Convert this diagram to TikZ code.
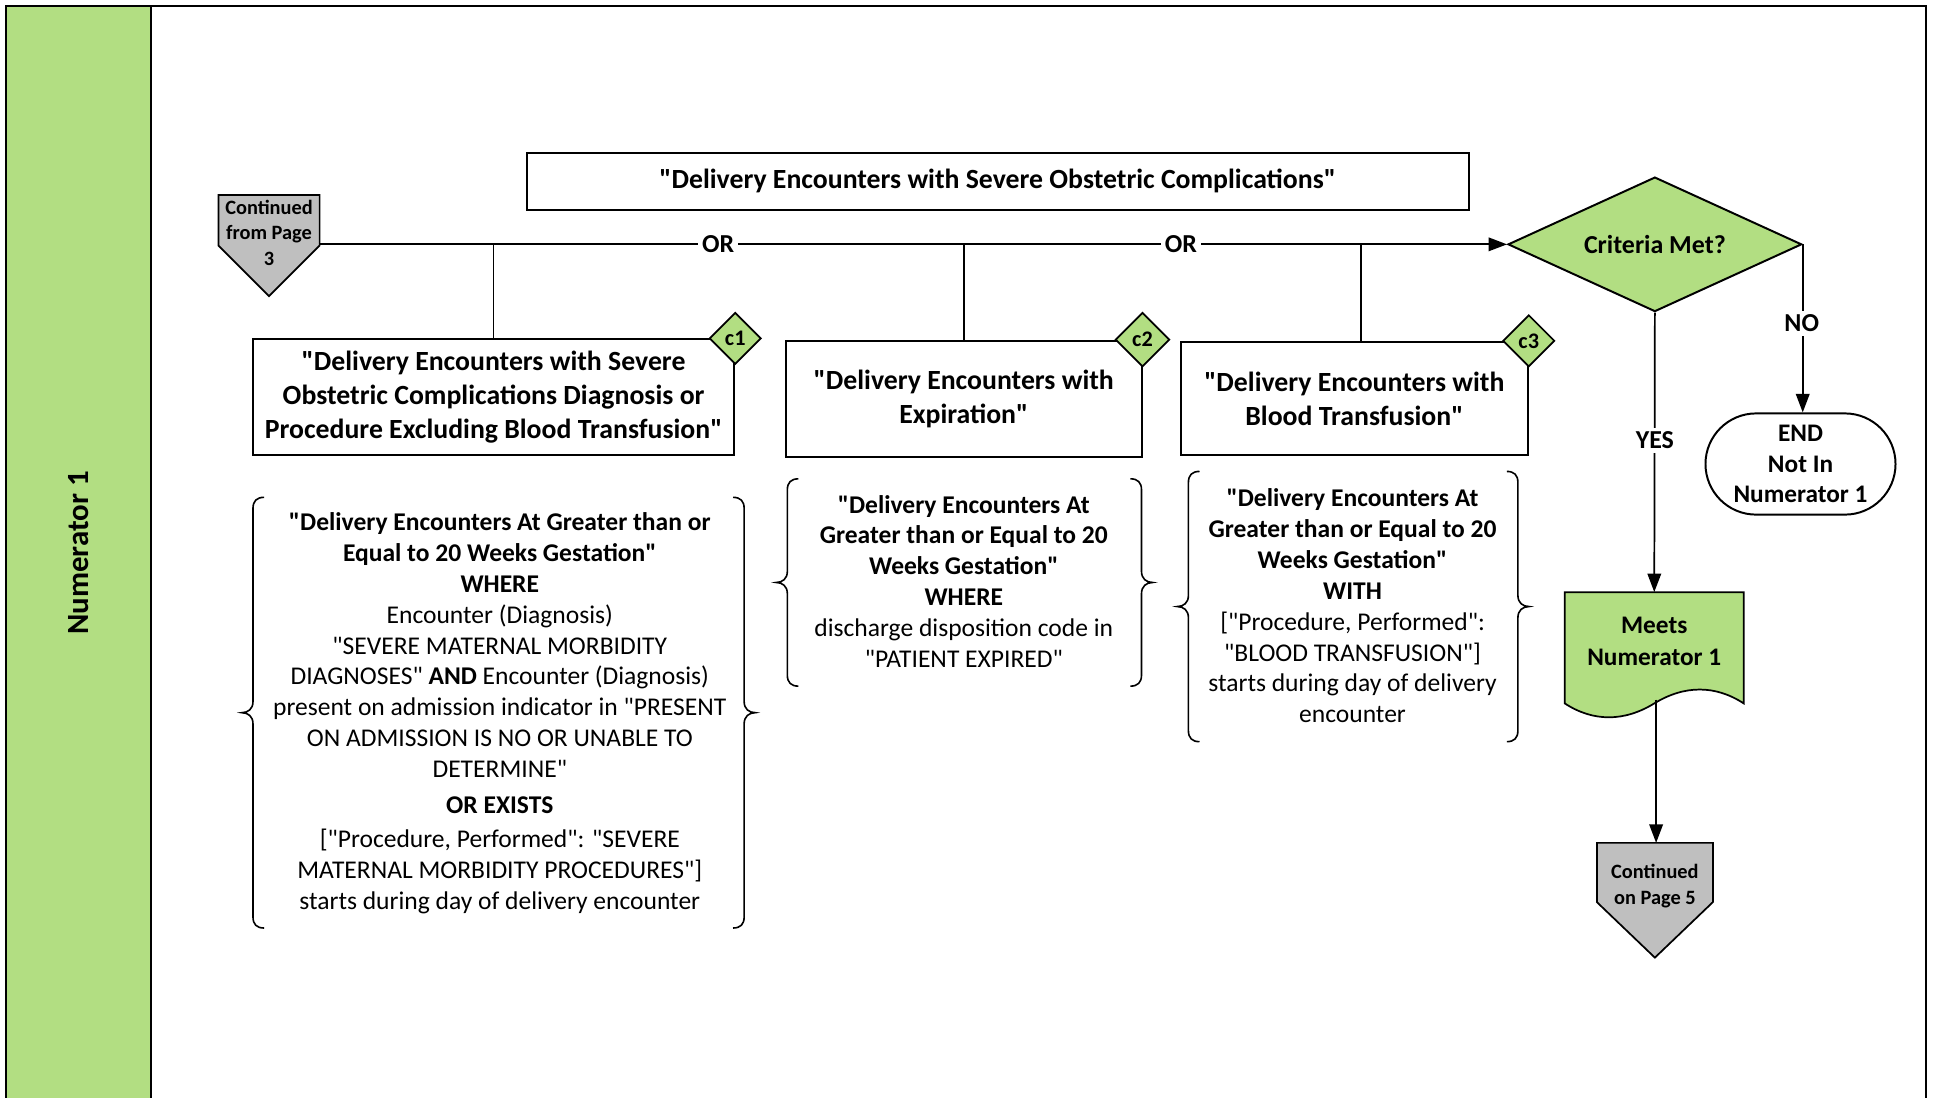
\documentclass[tikz,border=0pt]{standalone}
\usepackage{fontspec}
\setmainfont{Carlito}[Ligatures=TeXOff]
\usetikzlibrary{shapes.geometric,arrows.meta,calc}
\definecolor{lanegreen}{RGB}{178,222,130}
\definecolor{pagegray}{RGB}{191,191,191}

% a pair of curly braces around a block of text: left x, right x, top y, bottom y
\newcommand\curlypair[4]{%
  \pgfmathsetmacro\bmid{(#3+#4)/2}%
  \draw[bracestyle] (#1+9,#3) .. controls (#1+3,#3) and (#1,#3+3) .. (#1,#3+9)
    -- (#1,\bmid-9) .. controls (#1,\bmid-3) and (#1-4,\bmid) .. (#1-9,\bmid)
    .. controls (#1-4,\bmid) and (#1,\bmid+3) .. (#1,\bmid+9)
    -- (#1,#4-9) .. controls (#1,#4-3) and (#1+3,#4) .. (#1+9,#4);
  \draw[bracestyle] (#2-9,#3) .. controls (#2-3,#3) and (#2,#3+3) .. (#2,#3+9)
    -- (#2,\bmid-9) .. controls (#2,\bmid-3) and (#2+4,\bmid) .. (#2+9,\bmid)
    .. controls (#2+4,\bmid) and (#2,\bmid+3) .. (#2,\bmid+9)
    -- (#2,#4-9) .. controls (#2,#4-3) and (#2-3,#4) .. (#2-9,#4);
}

\begin{document}
\begin{tikzpicture}[x=1pt,y=-1pt,
  box/.style={draw,line width=1.6pt,rectangle,inner sep=0pt,align=center,
    font=\bfseries\fontsize{22.5}{27.4}\selectfont},
  tag/.style={draw,line width=1.4pt,diamond,fill=lanegreen,inner sep=0pt,
    minimum width=42pt,minimum height=42pt,font=\bfseries\fontsize{18}{20}\selectfont},
  body/.style={align=center,inner sep=0pt,font=\fontsize{20.7}{25}\selectfont},
  lbl/.style={fill=white,inner sep=3pt,font=\bfseries\fontsize{21}{24}\selectfont},
  small/.style={align=center,inner sep=0pt,font=\bfseries\fontsize{16.5}{20.5}\selectfont},
  link/.style={line width=1.4pt},
  arrow/.style={line width=1.4pt,-{Triangle[length=15pt,width=11pt]}},
  bracestyle/.style={line width=1.3pt},
]
\useasboundingbox (0,0) rectangle (1568,889);

% swimlane frame and header band
\fill[lanegreen] (5,5) rectangle (122,895);
\draw[line width=1.6pt] (5,895) -- (5,5) -- (1561,5) -- (1561,895);
\draw[line width=1.6pt] (122,5) -- (122,895);
\node[rotate=90,font=\bfseries\fontsize{25}{30}\selectfont] (lane) at (64,448) {Numerator 1};

% off-page connector coming in
\draw[line width=1.4pt,fill=pagegray] (177,158) -- (259,158) -- (259,199) -- (218,240) -- (177,199) -- cycle;
\node[small] (p3) at (218,188.5) {Continued\\from Page\\3};
\coordinate (p3out) at (259,198);

% title
\node[box,minimum width=763pt,minimum height=46pt] (title) at (808.5,147)
  {"Delivery Encounters with Severe Obstetric Complications"};

% the three criteria
\node[box,minimum width=390pt,minimum height=94pt] (c1) at (400,322)
  {"Delivery Encounters with Severe\\Obstetric Complications Diagnosis or\\Procedure Excluding Blood Transfusion"};
\node[box,minimum width=288pt,minimum height=94pt] (c2) at (781,323)
  {"Delivery Encounters with\\Expiration"};
\node[box,minimum width=281pt,minimum height=92pt] (c3) at (1097.5,323)
  {"Delivery Encounters with\\Blood Transfusion"};

% decision
\node[draw,line width=1.6pt,diamond,fill=lanegreen,inner sep=0pt,shape aspect=2.18,
  minimum width=238pt,minimum height=109pt,font=\bfseries\fontsize{21}{24}\selectfont]
  (crit) at (1341,198) {Criteria Met?};

% main OR line and drops
\draw[arrow] (p3out) -- (crit.west);
\draw[link] (c1.north |- p3out) -- (c1.north);
\draw[link] (c2.north |- p3out) -- (c2.north);
\draw[link] ([xshift=5.5pt]c3.north |- p3out) -- ([xshift=5.5pt]c3.north);
\node[lbl] (or1) at (582,198) {OR};
\node[lbl] (or2) at (957,198) {OR};

% criterion tags
\node[tag] (t1) at (c1.north east) {c1};
\node[tag,minimum width=44pt,minimum height=44pt] (t2) at (c2.north east) {c2};
\node[tag] (t3) at (c3.north east) {c3};

% criterion definitions
\curlypair{205}{603}{403}{752}
\node[body] (d1) at (405,578) {%
  \textbf{"Delivery Encounters At Greater than or}\\
  \textbf{Equal to 20 Weeks Gestation"}\\
  \textbf{WHERE}\\
  Encounter (Diagnosis)\\
  "SEVERE MATERNAL MORBIDITY\\
  DIAGNOSES" \textbf{AND} Encounter (Diagnosis)\\
  present on admission indicator in "PRESENT\\
  ON ADMISSION IS NO OR UNABLE TO\\
  DETERMINE"\\[4pt]
  \textbf{OR EXISTS}\\[3pt]
  {}["Procedure, Performed": "SEVERE\\
  MATERNAL MORBIDITY PROCEDURES"]\\
  starts during day of delivery encounter};

\curlypair{638}{925}{388}{556}
\node[body] (d2) at (781,471) {%
  \textbf{"Delivery Encounters At}\\
  \textbf{Greater than or Equal to 20}\\
  \textbf{Weeks Gestation"}\\
  \textbf{WHERE}\\
  discharge disposition code in\\
  "PATIENT EXPIRED"};

\curlypair{963}{1230}{382}{601}
\node[body] (d3) at (1096,491) {%
  \textbf{"Delivery Encounters At}\\
  \textbf{Greater than or Equal to 20}\\
  \textbf{Weeks Gestation"}\\
  \textbf{WITH}\\
  {}["Procedure, Performed":\\
  "BLOOD TRANSFUSION"]\\
  starts during day of delivery\\
  encounter};

% NO branch
\node[draw,line width=1.6pt,rectangle,rounded corners=41pt,minimum width=154pt,minimum height=82pt,
  inner sep=0pt,align=center,font=\bfseries\fontsize{20.5}{24.5}\selectfont]
  (end) at (1459,376) {END\\Not In\\Numerator 1};
\draw[arrow] (crit.east) -- (crit.east |- end.north);
\node[lbl] (no) at (1460,262) {NO};

% YES branch: document shape
\draw[line width=1.4pt,fill=lanegreen] (1268,480) -- (1413,480) -- (1413,570)
  .. controls (1390,555) and (1365,555) .. (1340.5,570)
  .. controls (1316,585) and (1291,585) .. (1268,570) -- cycle;
\node[align=center,inner sep=0pt,minimum width=145pt,minimum height=80pt,
  font=\bfseries\fontsize{20.5}{26}\selectfont] (meets) at (1340.5,520) {Meets\\Numerator 1};
\draw[arrow] (crit.south) -- (meets.north);
\node[lbl] (yes) at (1341,357) {YES};

% off-page connector going out
\draw[line width=1.4pt,fill=pagegray] (1294,683) -- (1388,683) -- (1388,731) -- (1341,776) -- (1294,731) -- cycle;
\node[small] (p5) at (1341,718) {Continued\\on Page 5};
\coordinate (meetsout) at (1342,567);
\coordinate (p5in) at (1342,683);
\draw[arrow] (meetsout) -- (p5in);
\end{tikzpicture}
\end{document}
